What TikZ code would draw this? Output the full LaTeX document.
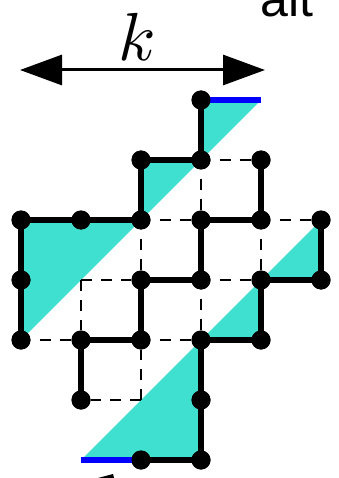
\documentclass[tikz,border=0pt]{standalone}
\usepackage{fontspec}
\setsansfont{Liberation Sans}
\usetikzlibrary{arrows.meta}
\definecolor{turq}{HTML}{40E0D0}
\begin{document}
\begin{tikzpicture}[x=1pt,y=-1pt,
  dot/.style={circle,fill=black,inner sep=0pt,minimum size=19pt},
  solidedge/.style={line width=6.5pt},
  dashedge/.style={line width=2.8pt,dash pattern=on 11pt off 9pt},
  dashmid/.style={dashedge,dash phase=11pt},
  blueedge/.style={draw=blue,line width=5.5pt},
  tri/.style={fill=turq},
  bigtip/.tip={Triangle[length=42pt,width=30pt]}]
\useasboundingbox (0,0) rectangle (338,478);
% grid coordinates
\foreach \i in {0,...,5}
  \foreach \j in {0,...,6}
    \coordinate (g\i\j) at ({21+60*\i},{100+60*\j});
% clipped text at top
\begin{scope}
\clip (0,0) rectangle (338,478);
\node[anchor=base west,inner sep=0pt,font=\sffamily\fontsize{50}{50}\selectfont] (alt) at (260,17) {alt};
\fill (98,478) -- (113,474) -- (114,478) -- cycle;
\end{scope}
% k arrow
\coordinate (al) at (20,70);
\coordinate (ar) at (265,70);
\draw[line width=3pt,bigtip-bigtip] (al) -- (ar);
\node[scale=6.8,inner sep=0pt] (k) at (137,37) {$k$};
% cyan triangles
\fill[tri] (g30) -- (g40) -- (g31) -- cycle;
\fill[tri] (g21) -- (g31) -- (g22) -- cycle;
\fill[tri] (g02) -- (g22) -- (g04) -- cycle;
\fill[tri] (g52) -- (g53) -- (g43) -- cycle;
\fill[tri] (g43) -- (g44) -- (g34) -- cycle;
\fill[tri] (g34) -- (g36) -- (g16) -- cycle;
% dots
\foreach \p in {30,21,31,41,02,12,22,32,42,52,03,23,33,43,53,04,14,24,34,44,15,35,26,36}
  \node[dot] (d\p) at (g\p) {};
% dashed edges
\foreach \a/\b in {31/41,31/32,22/32,42/52,22/23,42/43,33/43,33/34,04/14,24/34}
  \draw[dashmid] (d\a) -- (d\b);
\draw[dashedge] (g13) -- (d23);
\draw[dashedge] (g13) -- (d14);
\draw[dashedge] (g25) -- (d24);
\draw[dashedge] (g25) -- (d15);
% solid edges
\draw[solidedge] (d30.center) -- (d31.center) -- (d21.center) -- (d22.center) -- (d12.center) -- (d02.center) -- (d03.center) -- (d04.center);
\draw[solidedge] (d41.center) -- (d42.center) -- (d32.center) -- (d33.center) -- (d23.center) -- (d24.center) -- (d14.center) -- (d15.center);
\draw[solidedge] (d52.center) -- (d53.center) -- (d43.center) -- (d44.center) -- (d34.center) -- (d35.center) -- (d36.center) -- (d26.center);
% blue edges
\draw[blueedge] (d30.center) -- (g40);
\draw[blueedge] (g16) -- (d26.center);
% dots on top
\foreach \p in {30,21,31,41,02,12,22,32,42,52,03,23,33,43,53,04,14,24,34,44,15,35,26,36}
  \fill (d\p) circle (9.5pt);
\end{tikzpicture}
\end{document}
